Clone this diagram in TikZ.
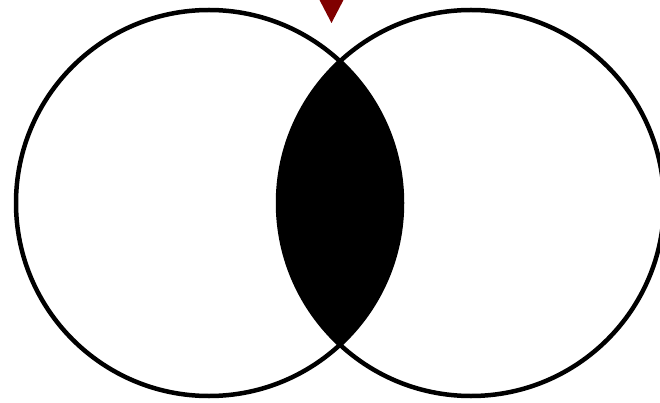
\documentclass[tikz,border=0pt]{standalone}
\usepackage{tikz}
\usepackage{xcolor}
\definecolor{markred}{RGB}{128,0,0}

\begin{document}
\begin{tikzpicture}[x=1pt, y=-1pt,
  setcircle/.style={draw, circle, line width=4.5pt, inner sep=0pt, minimum size=386pt}]
\useasboundingbox (0,0) rectangle (660,403);
% shaded overlap of the two sets
\begin{scope}
  \clip (209,203) circle (193);
  \fill[black] (471,203) circle (193);
\end{scope}
\node[setcircle] (setA) at (209,203) {};
\node[setcircle] (setB) at (471,203) {};
% marker above the upper crossing
\coordinate (tip) at (331.5,23);
\fill[markred] (319,-1) -- (344,-1) -- (tip) -- cycle;
\end{tikzpicture}
\end{document}
